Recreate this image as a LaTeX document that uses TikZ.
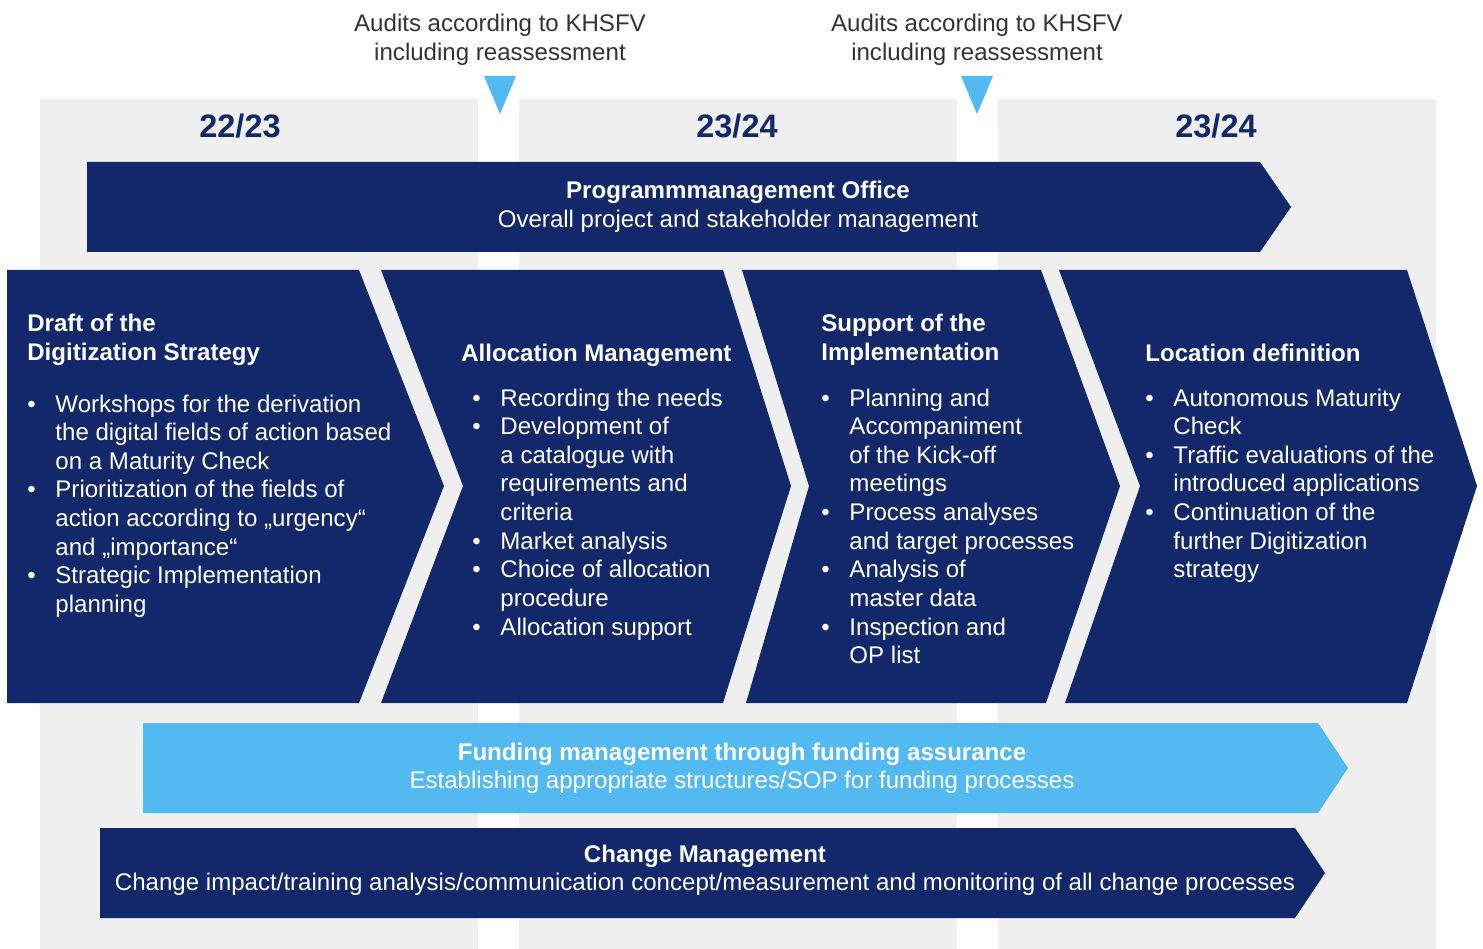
\documentclass[tikz,border=0pt]{standalone}
\usepackage{fontspec}
\setmainfont{Liberation Sans}
\definecolor{navy}{HTML}{13286A}
\definecolor{skyblue}{HTML}{53BAF1}
\definecolor{bggray}{HTML}{EFEFEF}
\definecolor{audittext}{HTML}{333333}
\newcommand{\bodyfont}{\fontsize{13.7}{16.3}\selectfont}
\newcommand{\bul}{\makebox[16pt][l]{\textbullet}}
\tikzset{yearcol/.style={fill=bggray},
         chev/.style={fill=navy},
         auditmark/.style={fill=skyblue},
         audit/.style={anchor=base, inner sep=0pt, text=audittext, font=\bodyfont},
         year/.style={anchor=base, inner sep=0pt, text=navy, font=\fontsize{18.5}{20}\selectfont\bfseries},
         phasehead/.style={anchor=base west, inner sep=0pt, text=white, font=\bodyfont\bfseries},
         bullets/.style={anchor=base west, inner sep=0pt, text=white, font=\bodyfont},
         bartext/.style={anchor=base, inner sep=0pt, text=white, font=\bodyfont},
        }

\begin{document}
\begin{tikzpicture}[x=0.02cm, y=-0.02cm]
        \useasboundingbox (0,0) rectangle (1483,949);
        % year columns
        \fill[yearcol] (40,99) rectangle (478,949);
        \fill[yearcol] (519,99) rectangle (957,949);
        \fill[yearcol] (998,99) rectangle (1436,949);
        \node[year](y1)at(240,138){22/23};
        \node[year](y2)at(737,138){23/24};
        \node[year](y3)at(1216,138){23/24};

        % audits
        \fill[auditmark] (484,76) -- (516,76) -- (500,114) -- cycle;
        \fill[auditmark] (961,76) -- (993,76) -- (977,114) -- cycle;
        \node[audit](a1)at(500,32){\begin{tabular}[t]{@{}c@{}}Audits according to KHSFV\\including reassessment\end{tabular}};
        \node[audit](a2)at(977,32){\begin{tabular}[t]{@{}c@{}}Audits according to KHSFV\\including reassessment\end{tabular}};

        % programme office
        \fill[chev] (87,162) -- (1260,162) -- (1291,207) -- (1260,252) -- (87,252) -- cycle;
        \node[bartext](pmo)at(738,199){\begin{tabular}[t]{@{}c@{}}\textbf{Programmmanagement Office}\\Overall project and stakeholder management\end{tabular}};

        % phases
        \fill[chev] (7,270) -- (359,270) -- (444,486) -- (359,703) -- (7,703) -- cycle;
        \fill[chev] (381,270) -- (723,270) -- (791,486) -- (723,703) -- (381,703) -- (463,486) -- cycle;
        \fill[chev] (742,270) -- (1041,270) -- (1120,486) -- (1046,703) -- (746,703) -- (809,486) -- cycle;
        \fill[chev] (1059,270) -- (1407,270) -- (1477,486) -- (1407,703) -- (1065,703) -- (1140,486) -- cycle;

        \node[phasehead](h1)at(27,332){\begin{tabular}[t]{@{}l@{}}Draft of the\\Digitization Strategy\end{tabular}};
        \node[bullets](b1)at(27,412){\begin{tabular}[t]{@{}l@{}l@{}}
            \bul & Workshops for the derivation\\
                 & the digital fields of action based\\
                 & on a Maturity Check\\
            \bul & Prioritization of the fields of\\
                 & action according to „urgency“\\
                 & and „importance“\\
            \bul & Strategic Implementation\\
                 & planning\end{tabular}};

        \node[phasehead](h2)at(461,361){Allocation Management};
        \node[bullets](b2)at(472,406){\begin{tabular}[t]{@{}l@{}l@{}}
            \bul & Recording the needs\\
            \bul & Development of\\
                 & a catalogue with\\
                 & requirements and\\
                 & criteria\\
            \bul & Market analysis\\
            \bul & Choice of allocation\\
                 & procedure\\
            \bul & Allocation support\end{tabular}};

        \node[phasehead](h3)at(821,332){\begin{tabular}[t]{@{}l@{}}Support of the\\Implementation\end{tabular}};
        \node[bullets](b3)at(821,406){\begin{tabular}[t]{@{}l@{}l@{}}
            \bul & Planning and\\
                 & Accompaniment\\
                 & of the Kick-off\\
                 & meetings\\
            \bul & Process analyses\\
                 & and target processes\\
            \bul & Analysis of\\
                 & master data\\
            \bul & Inspection and\\
                 & OP list\end{tabular}};

        \node[phasehead](h4)at(1145,361){Location definition};
        \node[bullets](b4)at(1145,406){\begin{tabular}[t]{@{}l@{}l@{}}
            \bul & Autonomous Maturity\\
                 & Check\\
            \bul & Traffic evaluations of the\\
                 & introduced applications\\
            \bul & Continuation of the\\
                 & further Digitization\\
                 & strategy\end{tabular}};

        % funding and change
        \fill[auditmark] (143,723) -- (1318,723) -- (1348,768) -- (1318,813) -- (143,813) -- cycle;
        \node[bartext](fund)at(742,760){\begin{tabular}[t]{@{}c@{}}\textbf{Funding management through funding assurance}\\Establishing appropriate structures/SOP for funding processes\end{tabular}};
        \fill[chev] (100,828) -- (1295,828) -- (1325,873) -- (1295,918) -- (100,918) -- cycle;
        \node[bartext](chg)at(705,862){\begin{tabular}[t]{@{}c@{}}\textbf{Change Management}\\Change impact/training analysis/communication concept/measurement and monitoring of all change processes\end{tabular}};
    \end{tikzpicture}
\end{document}
